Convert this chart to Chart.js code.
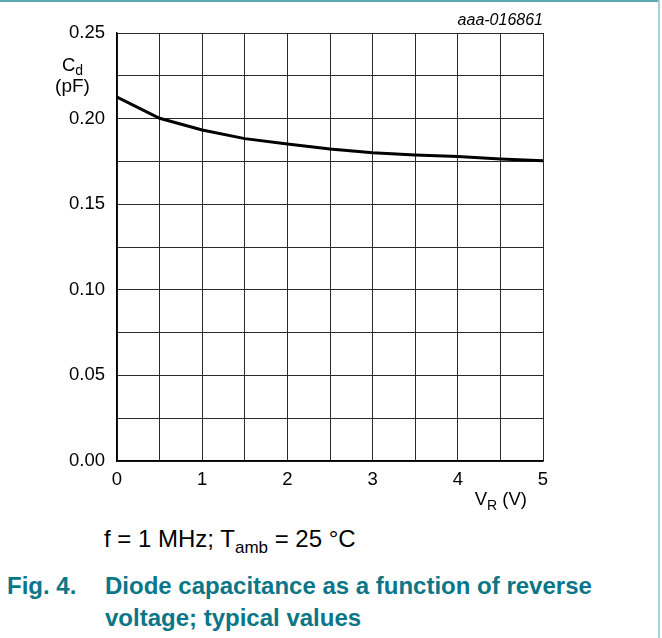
<!DOCTYPE html>
<html>
<head>
<meta charset="utf-8">
<script src="https://cdn.jsdelivr.net/npm/chart.js@4.4.1/dist/chart.umd.min.js"></script>
<style>
  body { margin: 0; background: #fff; font-family: "Liberation Sans", Arial, sans-serif; }
  #page { position: relative; width: 662px; height: 638px; overflow: hidden; }
  #frame-top { position: absolute; left: 0; top: 0; width: 660px; height: 2px; background: #5fa6b5; }
  #frame-right { position: absolute; left: 658px; top: 0; width: 2px; height: 638px; background: #a3d2dc; }
  #chart-box { position: absolute; left: 0; top: 0; width: 662px; height: 520px; }
  .cond { position: absolute; left: 104px; top: 527px; font-size: 24px; line-height: 24px; color: #000; white-space: nowrap; }
  .cond sub { font-size: 17px; vertical-align: -6px; line-height: 0; }
  .fig { position: absolute; font-size: 24px; line-height: 24px; font-weight: bold; color: #0b7688; white-space: nowrap; }
</style>
</head>
<body>
<div id="page">
  <div id="chart-box"><canvas id="cd-chart"></canvas></div>
  <div id="frame-top"></div>
  <div id="frame-right"></div>
  <div class="cond">f = 1 MHz; T<sub>amb</sub> = 25 °C</div>
  <div class="fig" style="left:7px; top:574px;">Fig. 4.</div>
  <div class="fig" style="left:105px; top:574px;">Diode capacitance as a function of reverse</div>
  <div class="fig" style="left:105px; top:606px;">voltage; typical values</div>
</div>

<script>
//DATA
let vr = [0, 0.5, 1, 1.5, 2, 2.5, 3, 3.5, 4, 4.5, 5];
let cd = [0.2126, 0.2002, 0.1933, 0.1883, 0.1852, 0.1822, 0.1801, 0.1787, 0.1778, 0.1764, 0.1754];
let xTickLabels = ['0', '1', '2', '3', '4', '5'];
let yTickLabels = ['0.00', '0.05', '0.10', '0.15', '0.20', '0.25'];

let fontFam = '"Liberation Sans", Arial, sans-serif';
let tickFont = { family: fontFam, size: 18.5 };

//AXIS TITLES + CODE
let labelsPlugin = {
  id: 'labels',
  afterDraw(chart) {
    let ctx = chart.ctx;
    ctx.save();
    ctx.fillStyle = '#000';
    ctx.textBaseline = 'alphabetic';

    // figure code
    ctx.font = 'italic 16px ' + fontFam;
    ctx.textAlign = 'right';
    ctx.fillText('aaa-016861', chart.chartArea.right, 25);

    // y title
    ctx.textAlign = 'left';
    ctx.font = '18.5px ' + fontFam;
    ctx.fillText('C', 62, 71);
    let cw = ctx.measureText('C').width;
    ctx.font = '14px ' + fontFam;
    ctx.fillText('d', 62 + cw, 75);
    ctx.font = '19px ' + fontFam;
    ctx.textAlign = 'center';
    ctx.fillText('(pF)', 72.5, 92);

    // x title
    ctx.textAlign = 'right';
    ctx.font = '18.5px ' + fontFam;
    let unit = ' (V)';
    ctx.fillText(unit, 527, 505);
    let uw = ctx.measureText(unit).width;
    ctx.font = '14px ' + fontFam;
    ctx.fillText('R', 527 - uw, 510);
    let rw = ctx.measureText('R').width;
    ctx.font = '18.5px ' + fontFam;
    ctx.fillText('V', 527 - uw - rw, 505);
    ctx.restore();
  }
};

function cdChart() {
  let canvas = document.getElementById('cd-chart');

  let data = {
    datasets: [{
      label: 'Cd',
      data: vr.map((v, i) => ({ x: v, y: cd[i] })),
      borderColor: '#000',
      borderWidth: 3,
      pointRadius: 0,
      tension: 0,
      fill: false
    }]
  };

  let config = {
    type: 'line',
    data: data,
    options: {
      responsive: true,
      maintainAspectRatio: false,
      animation: false,
      layout: { padding: { left: 0, right: 119, top: 33, bottom: 0 } },
      plugins: {
        legend: { display: false },
        tooltip: { enabled: false }
      },
      scales: {
        x: {
          type: 'linear',
          min: 0,
          max: 5,
          ticks: {
            stepSize: 0.5,
            color: '#000',
            font: tickFont,
            padding: 8,
            maxRotation: 0,
            autoSkip: false,
            callback: function (value) {
              return Number.isInteger(value) ? xTickLabels[value] : '';
            }
          },
          grid: { color: '#2a2a2a', lineWidth: 1, drawTicks: false },
          border: { color: '#000', width: 1.5 },
          afterFit: function (axis) { axis.height = 59; }
        },
        y: {
          min: 0,
          max: 0.25,
          ticks: {
            stepSize: 0.025,
            color: '#000',
            font: tickFont,
            padding: 12,
            autoSkip: false,
            callback: function (value) {
              let k = Math.round(value / 0.025);
              return k % 2 === 0 ? yTickLabels[k / 2] : '';
            }
          },
          grid: { color: '#2a2a2a', lineWidth: 1, drawTicks: false },
          border: { color: '#000', width: 1.5 },
          afterFit: function (axis) { axis.width = 117; }
        }
      }
    },
    plugins: [labelsPlugin]
  };

  new Chart(canvas, config);
}

document.addEventListener('DOMContentLoaded', function () {
  cdChart();
});
</script>
</body>
</html>
